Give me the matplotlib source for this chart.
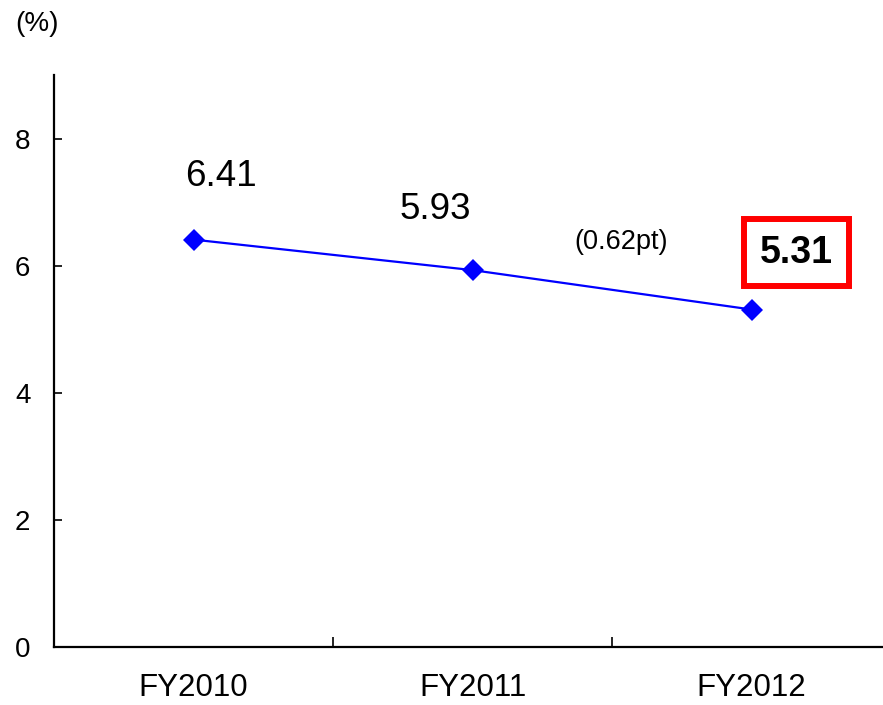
import matplotlib
matplotlib.use("Agg")
import matplotlib.pyplot as plt
from matplotlib.ticker import FixedLocator

plt.rcParams['font.family'] = ['Liberation Sans', 'DejaVu Sans']

years = ["FY2010", "FY2011", "FY2012"]
ratio = [6.41, 5.93, 5.31]
change_note = "(0.62pt)"
y_ticks = [0, 2, 4, 6, 8]

W, H, DPI = 883, 705, 100
fig = plt.figure(figsize=(W / DPI, H / DPI), dpi=DPI)
ax = fig.add_axes([54 / W, 1 - 647 / H, (891 - 54) / W, (647 - 75) / H])

x = list(range(len(years)))
ax.plot(x, ratio, color="#0000ff", linewidth=1.6, marker="D",
        markersize=11, markeredgewidth=0, markerfacecolor="#0000ff",
        clip_on=False, zorder=3)

ax.set_xlim(-0.5, len(years) - 0.5)
ax.set_ylim(0, 9)

for side in ("top", "right"):
    ax.spines[side].set_visible(False)
for side in ("left", "bottom"):
    ax.spines[side].set_linewidth(1.6)
    ax.spines[side].set_color("black")

ax.set_yticks(y_ticks)
ax.set_yticklabels([str(t) for t in y_ticks])
ax.tick_params(axis="y", direction="in", length=6, width=1.2, pad=17,
               labelsize=20)

ax.set_xticks(x)
ax.set_xticklabels(years)
ax.tick_params(axis="x", which="major", length=0, pad=19, labelsize=22.5)
ax.xaxis.set_minor_locator(FixedLocator([i + 0.5 for i in x[:-1]]))
ax.tick_params(axis="x", which="minor", direction="in", length=7, width=1.2)

# value labels above each point
ax.annotate(f"{ratio[0]:.2f}", (x[0], ratio[0]), xytext=(27, 63),
            textcoords="offset pixels", ha="center", va="center", fontsize=26.5)
ax.annotate(f"{ratio[1]:.2f}", (x[1], ratio[1]), xytext=(-37, 61),
            textcoords="offset pixels", ha="center", va="center", fontsize=26.5)
ax.annotate(f"{ratio[2]:.2f}", (x[2], ratio[2]), xytext=(45, 57),
            textcoords="offset pixels", ha="center", va="center",
            fontsize=27, fontweight="bold",
            bbox=dict(boxstyle="square,pad=0.42", facecolor="white",
                      edgecolor="#ff0000", linewidth=4.3))

# change versus previous year
ax.annotate(change_note, ((x[1] + x[2]) / 2, (ratio[1] + ratio[2]) / 2),
            xytext=(9, 48), textcoords="offset pixels",
            ha="center", va="center", fontsize=19.5)

fig.text(37 / W, 1 - 24 / H, "(%)", ha="center", va="center", fontsize=20)

fig.savefig("out.png", dpi=DPI)
